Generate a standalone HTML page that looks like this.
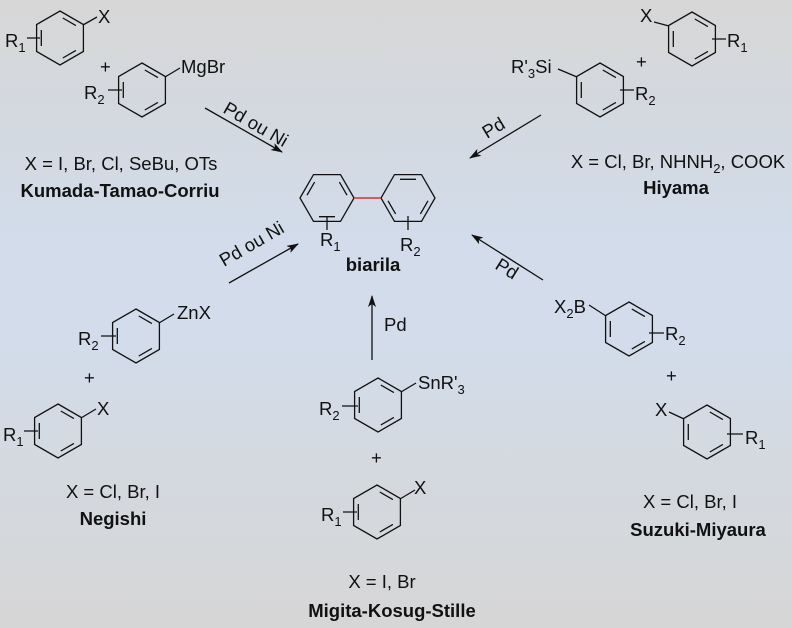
<!DOCTYPE html>
<html><head><meta charset="utf-8"><style>
html,body{margin:0;padding:0}
body{width:792px;height:628px;overflow:hidden;background:linear-gradient(#d7d7d7 0%,#d3d9e1 22%,#d2dcea 38%,#d2dcea 55%,#d4d9df 75%,#d6d6d6 100%)}
svg{display:block}
text{font-family:"Liberation Sans",Arial,sans-serif;font-size:18.5px;fill:#111}
.b{font-weight:bold}
.s{font-size:13px}
</style></head><body>
<svg width="792" height="628" viewBox="0 0 792 628" xmlns="http://www.w3.org/2000/svg">
<defs>
<g id="ring" fill="none" stroke="#111" stroke-width="1.3">
<path d="M0,-27 L23.4,-13.5 L23.4,13.5 L0,27 L-23.4,13.5 L-23.4,-13.5 Z"/>
<path d="M2.8,-20 L15.9,-12.4 M15.9,12.4 L2.8,20 M-18.7,-8 L-18.7,8"/>
</g>
<marker id="ah" markerWidth="12" markerHeight="8" refX="11" refY="4" orient="auto" markerUnits="userSpaceOnUse">
<path d="M0,0 L12,4 L0,8 L3,4 Z" fill="#111"/>
</marker>
</defs>
<g stroke="#111" stroke-width="1.3" fill="none">
<use href="#ring" transform="translate(60,38)"/>
<path d="M83,25 L97,17 M27,38 L40,38"/>
<use href="#ring" transform="translate(142,90)"/>
<path d="M165,77 L180,68 M108,90 L122,90"/>
<path d="M205,108 L282,152" marker-end="url(#ah)"/>
<use href="#ring" transform="translate(600,90)"/>
<path d="M558,69 L577,77 M620,90 L634,90"/>
<use href="#ring" transform="translate(692,39)"/>
<path d="M654,22 L669,26 M712,39 L726,39"/>
<path d="M541,115 L470,158" marker-end="url(#ah)"/>
<use href="#ring" transform="translate(136,336)"/>
<path d="M159,323 L174,314 M101,336 L116,336"/>
<use href="#ring" transform="translate(58,431)"/>
<path d="M81,418 L96,409 M24,431 L38,431"/>
<path d="M229,283 L298,244" marker-end="url(#ah)"/>
<use href="#ring" transform="translate(378,405)"/>
<path d="M401,392 L416,383 M342,406 L358,406"/>
<use href="#ring" transform="translate(377,512)"/>
<path d="M400,499 L415,490 M343,512 L357,512"/>
<path d="M372,360 L372,296" marker-end="url(#ah)"/>
<use href="#ring" transform="translate(629,329)"/>
<path d="M589,305 L606,316 M649,333 L664,333"/>
<use href="#ring" transform="translate(707,432)"/>
<path d="M669,412 L684,419 M727,434 L743,434"/>
<path d="M543,280 L472,235" marker-end="url(#ah)"/>
<path d="M300,198 L313.5,174.6 L340.5,174.6 L354,198 L340.5,221.4 L313.5,221.4 Z"/>
<path d="M339.4,182.1 L347,195.2 M319,216.7 L335,216.7 M307,195.2 L314.6,182.1"/>
<path d="M327,216 L327,230"/>
<path d="M381,198 L394.5,174.6 L421.5,174.6 L435,198 L421.5,221.4 L394.5,221.4 Z"/>
<path d="M400,179.3 L416,179.3 M428,200.8 L420.4,213.9 M388,200.8 L395.6,213.9"/>
<path d="M408,216 L408,230"/>
</g>
<path d="M354,198 L381,198" stroke="#e03030" stroke-width="1.6"/>

<text x="98" y="23">X</text>
<text x="5" y="47">R<tspan class="s" dy="5">1</tspan></text>
<text x="100" y="73">+</text>
<text x="181" y="73">MgBr</text>
<text x="84" y="99">R<tspan class="s" dy="5">2</tspan></text>
<text transform="translate(222,112) rotate(30)">Pd ou Ni</text>
<text x="121" y="170" text-anchor="middle">X = I, Br, Cl, SeBu, OTs</text>
<text x="120" y="197" text-anchor="middle" class="b">Kumada-Tamao-Corriu</text>

<text x="640" y="22">X</text>
<text x="727" y="47">R<tspan class="s" dy="5">1</tspan></text>
<text x="636" y="68">+</text>
<text x="511" y="73">R'<tspan class="s" dy="5">3</tspan><tspan dy="-5">Si</tspan></text>
<text x="635" y="100">R<tspan class="s" dy="5">2</tspan></text>
<text transform="translate(487,139) rotate(-31)">Pd</text>
<text x="678" y="168" text-anchor="middle">X = Cl, Br, NHNH<tspan class="s" dy="5">2</tspan><tspan dy="-5">, COOK</tspan></text>
<text x="676" y="194" text-anchor="middle" class="b">Hiyama</text>

<text x="320" y="246">R<tspan class="s" dy="5">1</tspan></text>
<text x="400" y="251">R<tspan class="s" dy="5">2</tspan></text>
<text x="373" y="271" text-anchor="middle" class="b">biarila</text>

<text transform="translate(224,267) rotate(-30)">Pd ou Ni</text>
<text x="177" y="319">ZnX</text>
<text x="78" y="345">R<tspan class="s" dy="5">2</tspan></text>
<text x="84" y="384">+</text>
<text x="97" y="415">X</text>
<text x="3" y="441">R<tspan class="s" dy="5">1</tspan></text>
<text x="113" y="498" text-anchor="middle">X = Cl, Br, I</text>
<text x="113" y="525" text-anchor="middle" class="b">Negishi</text>

<text x="384" y="331">Pd</text>
<text x="418" y="389">SnR'<tspan class="s" dy="5">3</tspan></text>
<text x="319" y="415">R<tspan class="s" dy="5">2</tspan></text>
<text x="371" y="464">+</text>
<text x="414" y="494">X</text>
<text x="321" y="521">R<tspan class="s" dy="5">1</tspan></text>
<text x="382" y="588" text-anchor="middle">X = I, Br</text>
<text x="392" y="617" text-anchor="middle" class="b">Migita-Kosug-Stille</text>

<text transform="translate(494,268) rotate(32)">Pd</text>
<text x="554" y="313">X<tspan class="s" dy="5">2</tspan><tspan dy="-5">B</tspan></text>
<text x="665" y="340">R<tspan class="s" dy="5">2</tspan></text>
<text x="666" y="382">+</text>
<text x="655" y="416">X</text>
<text x="745" y="444">R<tspan class="s" dy="5">1</tspan></text>
<text x="690" y="508" text-anchor="middle">X = Cl, Br, I</text>
<text x="698" y="536" text-anchor="middle" class="b">Suzuki-Miyaura</text>
</svg>
</body></html>
